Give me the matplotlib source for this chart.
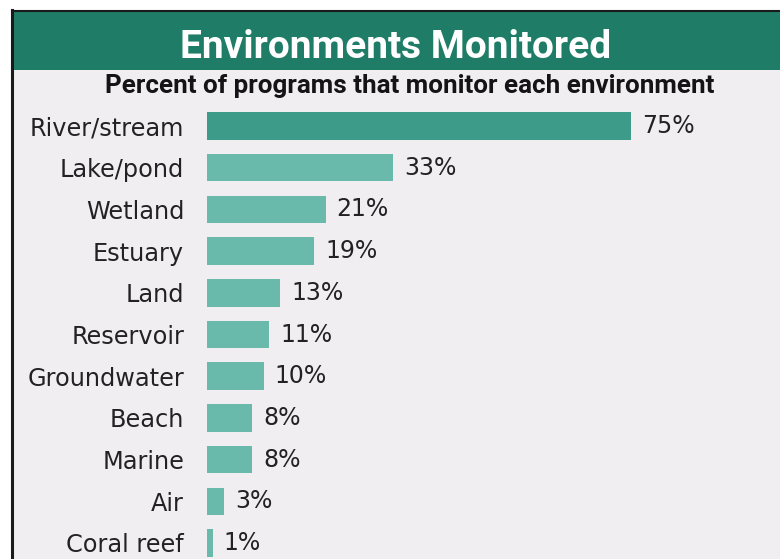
import matplotlib
matplotlib.use('Agg')
import matplotlib.pyplot as plt
from matplotlib.patches import Rectangle
from matplotlib.lines import Line2D

environments = ['River/stream', 'Lake/pond', 'Wetland', 'Estuary', 'Land', 'Reservoir',
                'Groundwater', 'Beach', 'Marine', 'Air', 'Coral reef']
percents = [75, 33, 21, 19, 13, 11, 10, 8, 8, 3, 1]

W, H = 780, 559
fig = plt.figure(figsize=(W / 100, H / 100), dpi=100)
fig.patch.set_facecolor('white')

def fx(px):
    return px / W

def fy(py):
    return 1 - py / H

# panel background, header band and borders
fig.patches.append(Rectangle((fx(12), 0), 1 - fx(12), fy(10), transform=fig.transFigure,
                             facecolor='#f1eef2', edgecolor='none', zorder=-2))
fig.patches.append(Rectangle((fx(12), fy(70)), 1 - fx(12), fy(12) - fy(70), transform=fig.transFigure,
                             facecolor='#1f7d67', edgecolor='none', zorder=-1))
fig.lines.append(Line2D([fx(12), 1], [fy(11), fy(11)], transform=fig.transFigure,
                        color='#1a1a1a', lw=1.5, zorder=2))
fig.lines.append(Line2D([fx(12), fx(12)], [0, fy(10)], transform=fig.transFigure,
                        color='#1a1a1a', lw=2.2, zorder=2))

head_font = ['Roboto', 'DejaVu Sans']
body_font = ['DejaVu Sans']
fig.text(fx(396), fy(47), 'Environments Monitored', ha='center', va='center',
         color='white', fontsize=28, fontweight='bold', family=head_font)
fig.text(fx(410), fy(86), 'Percent of programs that monitor each environment', ha='center',
         va='center', color='#141414', fontsize=18.7, fontweight='bold', family=head_font)

# bar axes: bars start at x=207 px, 5.65 px per percent, rows 41.7 px apart from y=126
px_per_pct = 5.65
row0, step = 126, 41.7
ax = fig.add_axes([fx(207), fy(559), fx(W - 207), fy(105) - fy(559)])
ax.set_zorder(5)
ax.set_xlim(0, (W - 207) / px_per_pct)
ax.set_ylim((559 - row0) / step, (105 - row0) / step)
ax.patch.set_alpha(0)
for s in ax.spines.values():
    s.set_visible(False)

colors = ['#3d9b89'] + ['#6abaac'] * (len(percents) - 1)
ypos = list(range(len(environments)))
ax.barh(ypos, percents, height=0.66, color=colors, edgecolor='none')

for y, v in zip(ypos, percents):
    ax.text(v + 11 / px_per_pct, y, f'{v}%', va='center', ha='left',
            fontsize=17, color='#222222', family=body_font)

ax.set_yticks(ypos)
ax.set_yticklabels(environments, fontsize=17.3, color='#222222', family=body_font)
ax.tick_params(axis='y', length=0, pad=16.5)
ax.set_xticks([])

fig.savefig('out.png', dpi=100, facecolor=fig.get_facecolor())
